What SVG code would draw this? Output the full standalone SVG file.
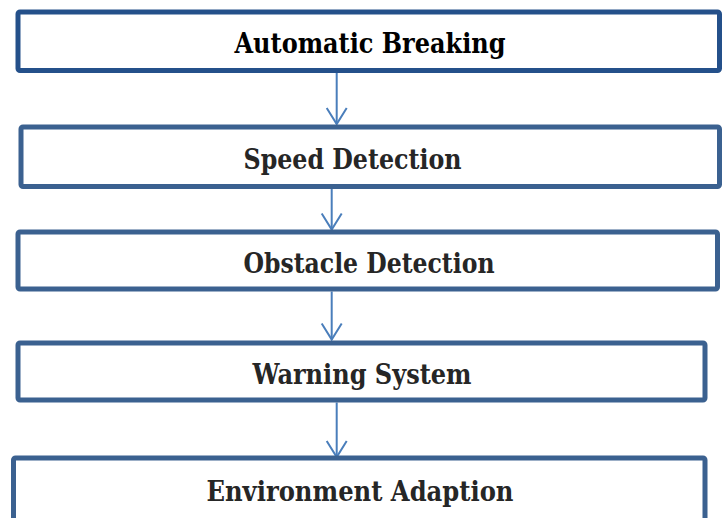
<svg xmlns="http://www.w3.org/2000/svg" width="725" height="518" viewBox="0 0 725 518">
<style>
.box{fill:#ffffff;stroke:#3b6190;stroke-width:5;}
.box1{stroke:#24508a;}
.lbl{font-family:"DejaVu Serif","Liberation Serif",serif;font-weight:bold;font-size:28px;fill:#262626;text-anchor:middle;}
.conn{stroke:#4a7ebb;stroke-width:2;fill:none;}
</style>
<defs>
<marker id="vhead" markerUnits="userSpaceOnUse" viewBox="-18 -12 20 24" markerWidth="20" markerHeight="24" refX="0" refY="0" orient="auto" overflow="visible">
<path d="M-16,-10 L0,0 L-16,10" fill="none" stroke="#4a7ebb" stroke-width="2"/>
</marker>
</defs>
<rect width="725" height="518" fill="#ffffff"/>
<g id="connectors">
<line class="conn" x1="336.7" y1="73" x2="336.7" y2="124" marker-end="url(#vhead)"/>
<line class="conn" x1="331.7" y1="189" x2="331.7" y2="229.5" marker-end="url(#vhead)"/>
<line class="conn" x1="331.7" y1="291.5" x2="331.7" y2="339.5" marker-end="url(#vhead)"/>
<line class="conn" x1="336.7" y1="402.5" x2="336.7" y2="457" marker-end="url(#vhead)"/>
</g>
<g id="node-automatic-breaking">
<rect class="box box1" x="18" y="12" width="701.5" height="58.5" rx="2"/>
<text class="lbl" x="370" y="52.5" textLength="271" lengthAdjust="spacingAndGlyphs" style="fill:#000">Automatic Breaking</text>
</g>
<g id="node-speed-detection">
<rect class="box" x="21" y="127" width="698.5" height="59.5" rx="2"/>
<text class="lbl" x="352.5" y="168.5" textLength="218" lengthAdjust="spacingAndGlyphs">Speed Detection</text>
</g>
<g id="node-obstacle-detection">
<rect class="box" x="18" y="232" width="699.5" height="57" rx="2"/>
<text class="lbl" x="369" y="272.5" textLength="251" lengthAdjust="spacingAndGlyphs">Obstacle Detection</text>
</g>
<g id="node-warning-system">
<rect class="box" x="18" y="343" width="687" height="57" rx="2"/>
<text class="lbl" x="362" y="383.5" textLength="219" lengthAdjust="spacingAndGlyphs">Warning System</text>
</g>
<g id="node-environment-adaption">
<rect class="box" x="13.5" y="458" width="691.5" height="80" rx="2"/>
<text class="lbl" x="360" y="500.5" textLength="307" lengthAdjust="spacingAndGlyphs">Environment Adaption</text>
</g>
</svg>
